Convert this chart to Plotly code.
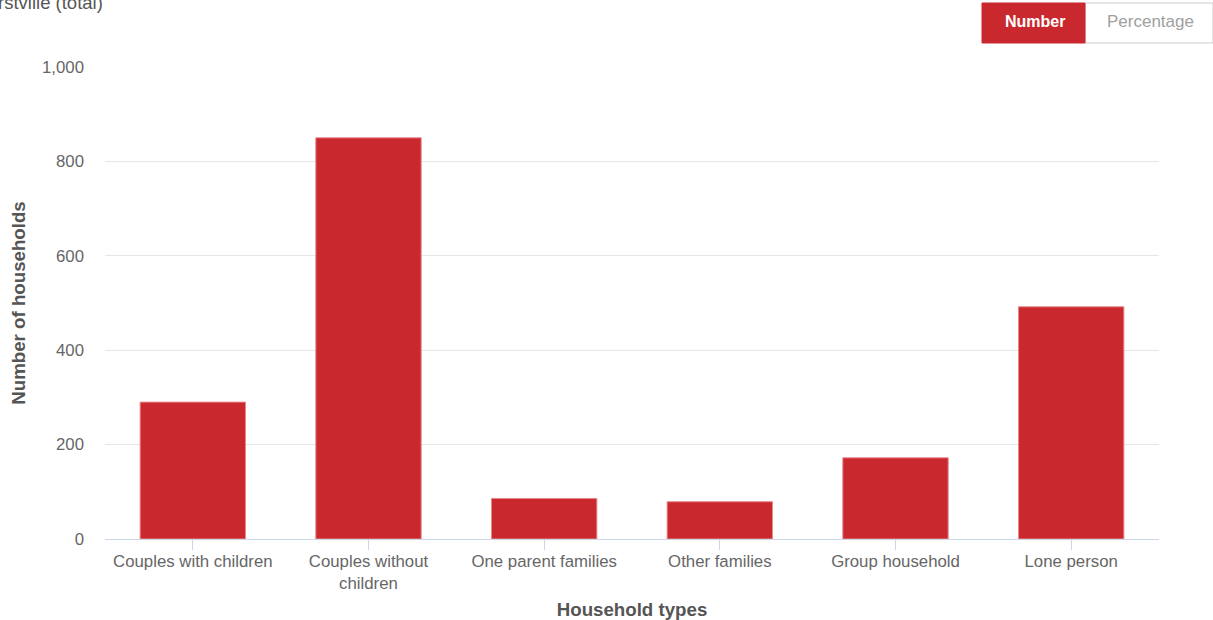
import plotly.graph_objects as go

categories = ["Couples with children", "Couples without<br>children", "One parent families",
              "Other families", "Group household", "Lone person"]
households = [290, 850, 86, 79, 172, 492]
y_ticks = [0, 200, 400, 600, 800, 1000]
y_tick_labels = ["0", "200", "400", "600", "800", "1,000"]

BAR = "#c9292e"
FONT = "Liberation Sans, Arial, sans-serif"

W, H = 1213, 620
L, R, T, B = 105, 54, 67, 81
pw, ph = W - L - R, H - T - B

def px_x(x):
    return (x - L) / pw

def px_y(y):
    return (H - B - y) / ph

fig = go.Figure(go.Bar(
    x=categories, y=households,
    marker=dict(color=BAR, line=dict(color="#e88a8d", width=1)),
    hovertemplate="%{x}: %{y}<extra></extra>",
))

fig.update_layout(
    width=W, height=H,
    margin=dict(l=L, r=R, t=T, b=B, autoexpand=False),
    paper_bgcolor="white", plot_bgcolor="white",
    font=dict(family=FONT, color="#666666", size=16.8),
    bargap=0.4,
    showlegend=False,
    xaxis=dict(
        showgrid=False, showline=True, linecolor="#ccd6eb", linewidth=1,
        ticks="outside", ticklen=10, tickcolor="#ccd6eb", tickwidth=1,
        ticklabelstandoff=-3,
        tickfont=dict(size=16.8, color="#666666"),
        title=dict(text="<b>Household types</b>", font=dict(size=18.7, color="#555555"), standoff=14),
        fixedrange=True,
    ),
    yaxis=dict(
        range=[0, 1000], tickvals=y_ticks, ticktext=y_tick_labels,
        showgrid=True, gridcolor="#e6e6e6", gridwidth=1,
        zeroline=False, showline=False, ticks="",
        ticklabelstandoff=20,
        tickfont=dict(size=16.8, color="#666666"),
        title=dict(text="<b>Number of households</b>", font=dict(size=18.7, color="#555555"), standoff=11),
        fixedrange=True,
    ),
)

# Cut-off title at the top-left
fig.add_annotation(
    text="rstville (total)", xref="paper", yref="paper",
    x=px_x(105), y=px_y(2), xanchor="right", yanchor="middle",
    showarrow=False, font=dict(size=18.5, color="#555555", family=FONT),
)

# Toggle buttons
fig.add_shape(type="rect", xref="paper", yref="paper",
              x0=px_x(1085), x1=px_x(1213), y0=px_y(43), y1=px_y(3),
              fillcolor="white", line=dict(color="#cccccc", width=1))
fig.add_shape(type="rect", xref="paper", yref="paper",
              x0=px_x(982), x1=px_x(1085), y0=px_y(43), y1=px_y(3),
              fillcolor=BAR, line=dict(color=BAR, width=1))
fig.add_annotation(text="<b>Number</b>", xref="paper", yref="paper",
                   x=px_x(1035), y=px_y(22), xanchor="center", yanchor="middle",
                   showarrow=False, font=dict(size=16, color="white", family=FONT))
fig.add_annotation(text="Percentage", xref="paper", yref="paper",
                   x=px_x(1150), y=px_y(22), xanchor="center", yanchor="middle",
                   showarrow=False, font=dict(size=17, color="#a0a0a0", family=FONT))

fig.write_html("out.html", config={"displayModeBar": False},
               post_script="document.body.style.margin='0';document.body.style.overflow='hidden';")
